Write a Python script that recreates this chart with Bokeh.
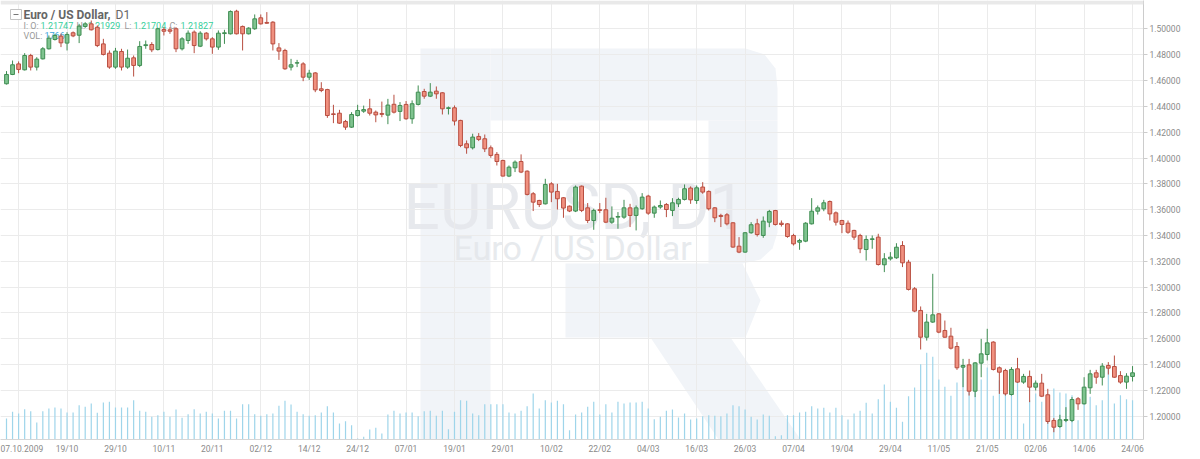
from bokeh.plotting import figure
from bokeh.models import Range1d, FixedTicker, PrintfTickFormatter, BoxAnnotation, ColumnDataSource
from bokeh.embed import file_html
from bokeh.resources import INLINE
from bokeh.core.properties import value

# ---------------- data ----------------
date_ticks = [2, 10, 18, 26, 34, 42, 50, 58, 66, 74, 82, 90, 98, 106, 114, 122,
              130, 138, 146, 154, 162, 170, 178, 186]
date_labels = ["07.10.2009", "19/10", "29/10", "10/11", "20/11", "02/12", "14/12", "24/12",
               "07/01", "19/01", "29/01", "10/02", "22/02", "04/03", "16/03", "26/03",
               "07/04", "19/04", "29/04", "11/05", "21/05", "02/06", "14/06", "24/06"]

price_ticks = [1.20, 1.22, 1.24, 1.26, 1.28, 1.30, 1.32, 1.34, 1.36, 1.38,
               1.40, 1.42, 1.44, 1.46, 1.48, 1.50]

opens = [
    1.4575, 1.4647, 1.4729, 1.4683, 1.4794, 1.4704, 1.4768, 1.4846, 1.4918, 1.4944,
    1.4890, 1.4970, 1.4951, 1.5019, 1.5039, 1.5013, 1.4884, 1.4812, 1.4704, 1.4825,
    1.4704, 1.4776, 1.4717, 1.4871, 1.4879, 1.4840, 1.4995, 1.4993, 1.5001, 1.4846,
    1.4910, 1.4975, 1.4866, 1.4967, 1.4923, 1.4859, 1.4964, 1.4962, 1.5137, 1.5019,
    1.4962, 1.5001, 1.5086, 1.5050, 1.5052, 1.4853, 1.4833, 1.4704, 1.4735, 1.4729,
    1.4626, 1.4659, 1.4536, 1.4530, 1.4342, 1.4347, 1.4283, 1.4239, 1.4329, 1.4363,
    1.4381, 1.4355, 1.4345, 1.4332, 1.4416, 1.4361, 1.4415, 1.4304, 1.4415, 1.4515,
    1.4479, 1.4518, 1.4505, 1.4384, 1.4389, 1.4291, 1.4110, 1.4079, 1.4167, 1.4149,
    1.4079, 1.4028, 1.3981, 1.3860, 1.3924, 1.3973, 1.3898, 1.3723, 1.3671, 1.3645,
    1.3800, 1.3741, 1.3692, 1.3627, 1.3589, 1.3782, 1.3614, 1.3516, 1.3599, 1.3599,
    1.3503, 1.3542, 1.3542, 1.3614, 1.3555, 1.3607, 1.3705, 1.3573, 1.3620, 1.3640,
    1.3594, 1.3645, 1.3679, 1.3767, 1.3671, 1.3775, 1.3741, 1.3614, 1.3555, 1.3560,
    1.3498, 1.3317, 1.3271, 1.3421, 1.3490, 1.3400, 1.3503, 1.3593, 1.3495, 1.3490,
    1.3400, 1.3348, 1.3356, 1.3490, 1.3588, 1.3606, 1.3663, 1.3575, 1.3516, 1.3495,
    1.3439, 1.3400, 1.3291, 1.3369, 1.3387, 1.3173, 1.3219, 1.3227, 1.3322, 1.3193,
    1.2987, 1.2819, 1.2612, 1.2729, 1.2793, 1.2664, 1.2620, 1.2540, 1.2380, 1.2398,
    1.2194, 1.2411, 1.2478, 1.2574, 1.2375, 1.2354, 1.2168, 1.2367, 1.2264, 1.2308,
    1.2225, 1.2256, 1.2166, 1.1967, 1.1920, 1.1967, 1.1967, 1.2135, 1.2096, 1.2220,
    1.2336, 1.2302, 1.2393, 1.2385, 1.2315, 1.2264, 1.2308]

highs = [
    1.4673, 1.4755, 1.4748, 1.4812, 1.4807, 1.4781, 1.4859, 1.4949, 1.4962, 1.4962,
    1.4975, 1.4980, 1.5039, 1.5052, 1.5065, 1.5026, 1.4923, 1.4833, 1.4853, 1.4846,
    1.4840, 1.4794, 1.4905, 1.4910, 1.4897, 1.5008, 1.5013, 1.5013, 1.5013, 1.4936,
    1.4988, 1.4988, 1.4982, 1.4975, 1.4936, 1.4988, 1.4993, 1.5143, 1.5148, 1.5026,
    1.5013, 1.5112, 1.5112, 1.5130, 1.5060, 1.4890, 1.4846, 1.4768, 1.4760, 1.4742,
    1.4683, 1.4665, 1.4587, 1.4536, 1.4412, 1.4373, 1.4295, 1.4355, 1.4412, 1.4406,
    1.4458, 1.4368, 1.4437, 1.4458, 1.4490, 1.4433, 1.4441, 1.4446, 1.4562, 1.4536,
    1.4580, 1.4554, 1.4510, 1.4399, 1.4407, 1.4296, 1.4136, 1.4188, 1.4193, 1.4182,
    1.4097, 1.4046, 1.3986, 1.3942, 1.3981, 1.4028, 1.3904, 1.3736, 1.3676, 1.3839,
    1.3813, 1.3800, 1.3697, 1.3632, 1.3787, 1.3787, 1.3651, 1.3607, 1.3651, 1.3692,
    1.3625, 1.3581, 1.3676, 1.3645, 1.3632, 1.3728, 1.3715, 1.3632, 1.3671, 1.3651,
    1.3689, 1.3692, 1.3795, 1.3780, 1.3787, 1.3813, 1.3749, 1.3620, 1.3568, 1.3573,
    1.3503, 1.3387, 1.3426, 1.3503, 1.3529, 1.3547, 1.3598, 1.3598, 1.3516, 1.3495,
    1.3413, 1.3374, 1.3503, 1.3689, 1.3632, 1.3676, 1.3671, 1.3586, 1.3521, 1.3516,
    1.3444, 1.3413, 1.3400, 1.3400, 1.3413, 1.3263, 1.3271, 1.3340, 1.3356, 1.3211,
    1.3000, 1.2850, 1.2793, 1.3103, 1.2798, 1.2741, 1.2685, 1.2574, 1.2444, 1.2444,
    1.2419, 1.2599, 1.2677, 1.2581, 1.2385, 1.2367, 1.2380, 1.2452, 1.2328, 1.2354,
    1.2277, 1.2328, 1.2212, 1.1985, 1.2011, 1.2070, 1.2148, 1.2148, 1.2302, 1.2359,
    1.2359, 1.2411, 1.2419, 1.2470, 1.2349, 1.2333, 1.2388]

lows = [
    1.4569, 1.4642, 1.4657, 1.4678, 1.4678, 1.4678, 1.4763, 1.4840, 1.4910, 1.4859,
    1.4833, 1.4936, 1.4890, 1.5008, 1.4988, 1.4859, 1.4794, 1.4691, 1.4691, 1.4678,
    1.4691, 1.4631, 1.4704, 1.4846, 1.4820, 1.4833, 1.4949, 1.4962, 1.4820, 1.4833,
    1.4884, 1.4812, 1.4859, 1.4910, 1.4807, 1.4838, 1.4884, 1.4957, 1.4957, 1.4833,
    1.4957, 1.4993, 1.5034, 1.5039, 1.4833, 1.4760, 1.4683, 1.4678, 1.4704, 1.4595,
    1.4605, 1.4510, 1.4510, 1.4311, 1.4270, 1.4264, 1.4218, 1.4233, 1.4321, 1.4350,
    1.4329, 1.4277, 1.4316, 1.4262, 1.4345, 1.4286, 1.4296, 1.4265, 1.4407, 1.4459,
    1.4472, 1.4459, 1.4337, 1.4337, 1.4252, 1.4084, 1.4033, 1.4066, 1.4131, 1.4046,
    1.4002, 1.3942, 1.3857, 1.3852, 1.3891, 1.3883, 1.3710, 1.3589, 1.3620, 1.3640,
    1.3658, 1.3601, 1.3537, 1.3581, 1.3581, 1.3581, 1.3496, 1.3444, 1.3573, 1.3496,
    1.3490, 1.3452, 1.3529, 1.3465, 1.3439, 1.3599, 1.3560, 1.3537, 1.3607, 1.3542,
    1.3550, 1.3620, 1.3671, 1.3645, 1.3645, 1.3723, 1.3594, 1.3503, 1.3465, 1.3478,
    1.3305, 1.3263, 1.3266, 1.3413, 1.3392, 1.3382, 1.3464, 1.3477, 1.3469, 1.3382,
    1.3322, 1.3289, 1.3348, 1.3485, 1.3562, 1.3588, 1.3516, 1.3477, 1.3418, 1.3413,
    1.3366, 1.3263, 1.3206, 1.3297, 1.3167, 1.3116, 1.3206, 1.3219, 1.3155, 1.2974,
    1.2806, 1.2517, 1.2586, 1.2723, 1.2643, 1.2607, 1.2517, 1.2359, 1.2225, 1.2160,
    1.2148, 1.2302, 1.2432, 1.2354, 1.2173, 1.2160, 1.2160, 1.2259, 1.2251, 1.2109,
    1.2199, 1.2148, 1.1941, 1.1876, 1.1910, 1.1954, 1.1954, 1.2049, 1.2091, 1.2173,
    1.2251, 1.2238, 1.2323, 1.2297, 1.2251, 1.2212, 1.2269]

closes = [
    1.4647, 1.4722, 1.4686, 1.4794, 1.4704, 1.4766, 1.4846, 1.4928, 1.4949, 1.4892,
    1.4957, 1.4946, 1.5021, 1.5039, 1.4993, 1.4871, 1.4802, 1.4704, 1.4828, 1.4704,
    1.4773, 1.4717, 1.4864, 1.4877, 1.4838, 1.5001, 1.4982, 1.4982, 1.4846, 1.4923,
    1.4967, 1.4871, 1.4967, 1.4923, 1.4859, 1.4967, 1.4970, 1.5135, 1.4962, 1.4962,
    1.5006, 1.5078, 1.5039, 1.5044, 1.4884, 1.4828, 1.4691, 1.4722, 1.4738, 1.4626,
    1.4657, 1.4528, 1.4523, 1.4329, 1.4337, 1.4270, 1.4239, 1.4337, 1.4368, 1.4375,
    1.4347, 1.4334, 1.4338, 1.4410, 1.4355, 1.4407, 1.4304, 1.4420, 1.4510, 1.4479,
    1.4510, 1.4497, 1.4381, 1.4389, 1.4286, 1.4097, 1.4079, 1.4162, 1.4144, 1.4071,
    1.4020, 1.3973, 1.3860, 1.3929, 1.3968, 1.3891, 1.3718, 1.3658, 1.3640, 1.3795,
    1.3736, 1.3684, 1.3612, 1.3589, 1.3775, 1.3594, 1.3516, 1.3594, 1.3594, 1.3503,
    1.3534, 1.3547, 1.3614, 1.3555, 1.3614, 1.3697, 1.3573, 1.3620, 1.3632, 1.3601,
    1.3653, 1.3679, 1.3762, 1.3676, 1.3769, 1.3736, 1.3607, 1.3537, 1.3547, 1.3490,
    1.3310, 1.3271, 1.3421, 1.3483, 1.3407, 1.3511, 1.3586, 1.3485, 1.3485, 1.3392,
    1.3335, 1.3361, 1.3495, 1.3588, 1.3614, 1.3653, 1.3567, 1.3503, 1.3485, 1.3425,
    1.3387, 1.3297, 1.3369, 1.3374, 1.3175, 1.3219, 1.3232, 1.3309, 1.3188, 1.2982,
    1.2814, 1.2612, 1.2729, 1.2785, 1.2651, 1.2612, 1.2527, 1.2375, 1.2393, 1.2194,
    1.2413, 1.2483, 1.2568, 1.2362, 1.2341, 1.2173, 1.2362, 1.2264, 1.2308, 1.2225,
    1.2256, 1.2155, 1.1959, 1.1915, 1.1972, 1.1974, 1.2129, 1.2096, 1.2225, 1.2328,
    1.2302, 1.2388, 1.2372, 1.2302, 1.2264, 1.2310, 1.2336]

volumes = [
    6300, 8300, 7800, 9100, 8500, 5100, 8500, 9300, 9600, 9300,
    8100, 8100, 10300, 9800, 10800, 8000, 11100, 11300, 9600, 9600,
    9600, 11800, 8600, 8300, 6800, 7300, 8300, 6800, 9000, 6500,
    7600, 9100, 7800, 8300, 7800, 6300, 8600, 8600, 6300, 10600,
    10600, 7600, 7100, 7600, 7800, 10100, 11600, 10500, 8300, 7600,
    7100, 7300, 8100, 10000, 8100, 4800, 5500, 4300, 300, 800,
    3000, 3500, 1800, 7500, 8600, 7800, 8100, 8100, 7000, 8500,
    8600, 7100, 8600, 3100, 8300, 11800, 11600, 7800, 7300, 10600,
    10600, 10600, 10600, 8100, 7800, 8600, 10000, 13800, 9300, 11800,
    11100, 11600, 10600, 2800, 7500, 8100, 9800, 11300, 7500, 10600,
    8100, 11300, 10800, 11100, 11100, 11300, 9300, 6100, 6800, 8600,
    9000, 6600, 7800, 6000, 6300, 7000, 7300, 7100, 7000, 7800,
    10300, 10000, 9000, 6800, 6000, 7500, 7100, 1000, 1300, 7300,
    7300, 8100, 8300, 10000, 9300, 9500, 8100, 9500, 7300, 6000,
    7800, 8600, 11000, 7800, 12100, 16500, 11300, 9500, 5300, 13000,
    15600, 22600, 26000, 24800, 18000, 15800, 13100, 17100, 22300, 14800,
    15300, 18000, 21600, 13100, 17800, 13800, 16600, 17300, 4800, 11800,
    13800, 11300, 13800, 15300, 14100, 13800, 13300, 5800, 11000, 12800,
    10300, 11800, 21800, 10800, 13300, 12100, 11800]

# ---------------- geometry (canvas pixels) ----------------
W, H = 1200, 459
FRAME_RIGHT, FRAME_BOTTOM = 1143, 439
BAR_PX, X0_PX = 6.054, 6.0
PX_PER_PRICE, PX_AT_120 = 1291.0, 415.7
VOL_PER_PX = 300.0


def px_x(px):
    return (px - X0_PX) / BAR_PX


def px_y(py):
    return 1.20 + (PX_AT_120 - py) / PX_PER_PRICE


p = figure(width=W, height=H,
           x_range=Range1d(px_x(0), px_x(FRAME_RIGHT)),
           y_range=Range1d(px_y(FRAME_BOTTOM), px_y(0)),
           y_axis_location="right", toolbar_location=None, output_backend="svg",
           min_border_left=0, min_border_right=W - FRAME_RIGHT,
           min_border_top=0, min_border_bottom=H - FRAME_BOTTOM,
           background_fill_color="white", border_fill_color="white")
p.outline_line_color = None
p.styles = {"position": "absolute", "left": "0px", "top": "0px"}
p.extra_y_ranges = {"vol": Range1d(0, FRAME_BOTTOM * VOL_PER_PX)}

FONT = value("Roboto")

# ---------------- watermark ----------------
R_COLOR = "#f1f4f8"
r_pieces_px = [
    [(420, 48), (490, 48), (490, 439), (420, 439)],
    [(490, 48), (745, 48), (764, 54), (775, 68), (777, 88), (777, 120), (490, 120)],
    [(708, 120), (777, 120), (777, 232), (772, 248), (760, 259), (742, 263), (708, 263)],
    [(565, 263), (742, 263), (760, 300), (745, 337), (565, 337)],
    [(650, 337), (730, 337), (800, 439), (718, 439)],
]
p.patches(xs=[[px_x(a) for a, b in pc] for pc in r_pieces_px],
          ys=[[px_y(b) for a, b in pc] for pc in r_pieces_px],
          fill_color=R_COLOR, line_color=None, level="image")
p.text(x=[px_x(403)], y=[px_y(207)], text=["EURUSD, D1"], text_font=FONT,
       text_font_size="64px", text_color="#e4e7eb", text_alpha=0.9,
       text_baseline="alphabetic", level="image")
p.text(x=[px_x(453)], y=[px_y(247)], text=["Euro / US Dollar"], text_font=FONT,
       text_font_size="34px", text_color="#e4e7eb", text_alpha=0.9,
       text_baseline="alphabetic", level="image")

# ---------------- axes / grid ----------------
ax = p.yaxis[0]
ax.ticker = FixedTicker(ticks=price_ticks)
ax.formatter = PrintfTickFormatter(format="%.5f")
ax.major_label_text_font = "Roboto"
ax.major_label_text_font_size = "8.5px"
ax.major_label_text_color = "#8a8a8a"
ax.axis_line_color = "#cccccc"
ax.major_tick_line_color = "#cccccc"
ax.major_tick_out = 4
ax.major_tick_in = 0
ax.minor_tick_out = 0
ax.minor_tick_in = 0
ax.major_label_standoff = 2

xa = p.xaxis[0]
xa.ticker = FixedTicker(ticks=date_ticks)
xa.major_label_overrides = {t: lab for t, lab in zip(date_ticks, date_labels)}
xa.major_label_text_font = "Roboto"
xa.major_label_text_font_size = "8.5px"
xa.major_label_text_color = "#8a8a8a"
xa.axis_line_color = "#d6d6d6"
xa.major_tick_out = 0
xa.major_tick_in = 0
xa.minor_tick_out = 0
xa.minor_tick_in = 0
xa.major_label_standoff = 4

p.xgrid.ticker = FixedTicker(ticks=date_ticks)
p.ygrid.ticker = FixedTicker(ticks=price_ticks)
p.xgrid.grid_line_color = "#ebebeb"
p.ygrid.grid_line_color = "#ebebeb"

# ---------------- volume ----------------
idx = list(range(len(opens)))
p.vbar(x=idx, width=0.2, top=volumes, bottom=0, y_range_name="vol",
       fill_color="#9fd5ea", line_color=None)

# ---------------- legend text (under candles) ----------------
p.quad(left=[px_x(10)], right=[px_x(21)], top=[px_y(9)], bottom=[px_y(19)],
       fill_color="white", line_color="#c4c4c4")
p.segment(x0=[px_x(13)], y0=[px_y(14)], x1=[px_x(18)], y1=[px_y(14)],
          line_color="#777777", line_width=1)
p.text(x=[px_x(23)], y=[px_y(14.5)], text=["Euro / US Dollar,"], text_font=FONT,
       text_font_size="12px", text_font_style="bold", text_color="#666666",
       text_baseline="middle")
p.text(x=[px_x(115)], y=[px_y(14.5)], text=["D1"], text_font=FONT,
       text_font_size="12px", text_color="#666666", text_baseline="middle")
leg_lab_x = [23, 76, 124, 169]
leg_lab = ["I: O:", "H:", "L:", "C:"]
leg_val_x = [40, 87, 133, 180]
leg_val = ["1.21747", "1.21929", "1.21704", "1.21827"]
p.text(x=[px_x(v) for v in leg_lab_x], y=[px_y(25)] * 4, text=leg_lab, text_font=FONT,
       text_font_size="9px", text_color="#9a9a9a", text_baseline="middle")
p.text(x=[px_x(v) for v in leg_val_x], y=[px_y(25)] * 4, text=leg_val, text_font=FONT,
       text_font_size="9px", text_color="#36cf9c", text_baseline="middle")
p.text(x=[px_x(23)], y=[px_y(35)], text=["VOL:"], text_font=FONT,
       text_font_size="9px", text_color="#9a9a9a", text_baseline="middle")
p.text(x=[px_x(44)], y=[px_y(35)], text=["1766"], text_font=FONT,
       text_font_size="9px", text_color="#3da6dc", text_baseline="middle")

# ---------------- candles ----------------
UP_FILL, UP_LINE = "#7fc38f", "#3f8d52"
DN_FILL, DN_LINE = "#f0907f", "#b84e40"
up = [c >= o for o, c in zip(opens, closes)]
src = ColumnDataSource(dict(
    x=idx, h=highs, l=lows,
    top=[max(o, c) for o, c in zip(opens, closes)],
    bot=[min(o, c) for o, c in zip(opens, closes)],
    fill=[UP_FILL if u else DN_FILL for u in up],
    line=[UP_LINE if u else DN_LINE for u in up],
))
p.segment(x0="x", y0="h", x1="x", y1="l", line_color="line", line_width=1, source=src)
p.vbar(x="x", width=0.62, top="top", bottom="bot", fill_color="fill",
       line_color="line", line_width=1, source=src)

# top strip
p.add_layout(BoxAnnotation(bottom=px_y(4), fill_color="#e9e9e9", fill_alpha=1.0,
                           line_color=None, level="overlay"))

open("out.html", "w").write(file_html(p, INLINE))
